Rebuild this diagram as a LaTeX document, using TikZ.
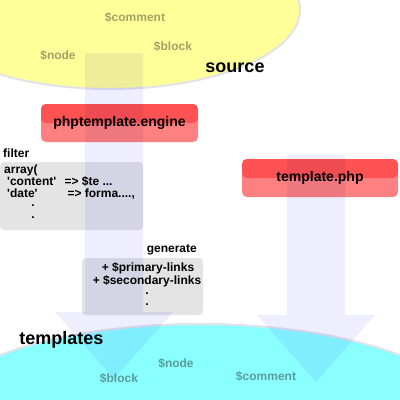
\documentclass[tikz,border=0pt]{standalone}
\usepackage{fontspec}
\setmainfont{Liberation Sans}
\usetikzlibrary{positioning}

\definecolor{srcyellow}{HTML}{FFFF99}
\definecolor{tplcyan}{HTML}{8AFFFF}
\definecolor{rimgray}{HTML}{E2E2E8}
\definecolor{boxgray}{HTML}{E4E4E4}
\definecolor{redtop}{HTML}{FF5252}
\definecolor{redlow}{HTML}{FF8080}
\definecolor{srcvar}{HTML}{A3A266}
\definecolor{tplvar}{HTML}{5B9C9C}
\definecolor{flowlav}{HTML}{EEEEFF}

\tikzset{
  title/.style={font=\fontsize{18}{20}\selectfont\bfseries, inner sep=0pt},
  srclabel/.style={font=\fontsize{12}{14}\selectfont\bfseries, text=srcvar, inner sep=0pt},
  tpllabel/.style={font=\fontsize{12}{14}\selectfont\bfseries, text=tplvar, inner sep=0pt},
  redbox/.style={rounded corners=5pt, fill=redlow, minimum height=38pt,
    font=\fontsize{14}{16}\selectfont\bfseries, inner sep=0pt,
    path picture={\fill[redtop] (path picture bounding box.north west)
      rectangle (path picture bounding box.east);}},
  graybox/.style={rounded corners=4pt, fill=boxgray, inner sep=0pt},
  code/.style={font=\fontsize{12}{14}\selectfont\bfseries, inner sep=0pt},
  flow/.style={fill=flowlav, blend mode=multiply}
}

\begin{document}
\begin{tikzpicture}[x=1pt, y=-1pt]
  \useasboundingbox (0,0) rectangle (400,400);

  % 1. source and templates ellipses
  \begin{scope}
    \clip (0,0) rectangle (400,400);
    \filldraw[fill=srcyellow, draw=rimgray, line width=2pt]
      (110,10) ellipse [x radius=190, y radius=79];
    \filldraw[fill=tplcyan, draw=rimgray, line width=2pt]
      (200,424) ellipse [x radius=276, y radius=100];
  \end{scope}

  % 2. variables in the source
  \node[srclabel] (srccomment) at (135,17) {\$comment};
  \node[srclabel] (srcnode) at (58,55) {\$node};
  \node[srclabel] (srcblock) at (173,46) {\$block};
  \node[title] (source) at (235,68) {source};

  % 3. engine and template file
  \node[redbox, minimum width=157pt] (engine) at (119.5,123) {phptemplate.engine};
  \node[redbox, minimum width=156pt] (tplphp) at (320,178) {template.php};

  % 4. filter box
  \node[graybox, minimum width=143pt, minimum height=68pt] (filterbox) at (71.5,196) {};
  \node[code, anchor=base west] (filter) at (3,157) {filter};
  \node[code, anchor=base west] (array) at (4,173) {array(};
  \node[code, anchor=base west] (content) at (7,185)
    {\makebox[54pt][l]{\textquotesingle content\textquotesingle} => \$te ...};
  \node[code, anchor=base west] (date) at (7,197)
    {\makebox[57pt][l]{\textquotesingle date\textquotesingle} => forma....,};
  \node[code, anchor=base] (fdotA) at (33,206) {.};
  \node[code, anchor=base] (fdotB) at (33,218) {.};

  % 5. generate box
  \node[graybox, minimum width=121pt, minimum height=57pt] (genbox) at (142.5,286.5) {};
  \node[code, anchor=base east] (generate) at (197,252) {generate};
  \node[code, anchor=base] (primary) at (148,271.5) {+ \$primary-links};
  \node[code, anchor=base] (secondary) at (147,284) {+ \$secondary-links};
  \node[code, anchor=base] (gdotA) at (147,294) {.};
  \node[code, anchor=base] (gdotB) at (147,305) {.};

  % 6. variables in the templates
  \node[title] (templates) at (61.5,340) {templates};
  \node[tpllabel] (tplnode) at (176,363) {\$node};
  \node[tpllabel] (tplblock) at (119,378) {\$block};
  \node[tpllabel] (tplcomment) at (266,376) {\$comment};

  % 7. the two big flow arrows
  \fill[flow] (85,53) -- (143,53) -- (143,312) -- (173,312) -- (114,379)
    -- (55,312) -- (85,312) -- cycle;
  \fill[flow] (287,155) -- (345,155) -- (345,315) -- (375,315) -- (316,382)
    -- (257,315) -- (287,315) -- cycle;
\end{tikzpicture}
\end{document}
